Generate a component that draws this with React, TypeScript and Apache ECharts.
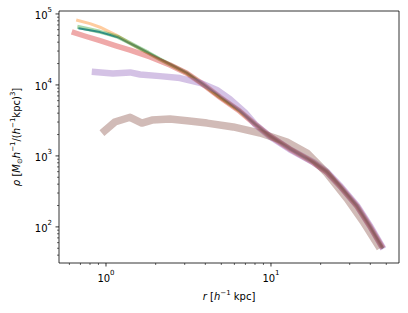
import React, { useEffect, useRef } from 'react';
import * as echarts from 'echarts';

// Axis extents (log-log)
const X_MIN = 0.519;
const X_MAX = 59.7;
const Y_MIN = 31;
const Y_MAX = 1.1e5;

// Tick values
const X_MAJOR = [1, 10];
const X_MINOR = [0.6, 0.7, 0.8, 0.9, 2, 3, 4, 5, 6, 7, 8, 9, 20, 30, 40, 50];
const Y_MAJOR = [1e2, 1e3, 1e4, 1e5];
const Y_MINOR = [
  40, 50, 60, 70, 80, 90,
  200, 300, 400, 500, 600, 700, 800, 900,
  2000, 3000, 4000, 5000, 6000, 7000, 8000, 9000,
  20000, 30000, 40000, 50000, 60000, 70000, 80000, 90000,
];

// Series data: radius r [h^-1 kpc] and density rho
const R_BLUE = [0.68, 0.8, 0.92, 1.05, 1.18, 1.35, 1.54, 1.8, 2.12, 2.6, 3.09, 3.87, 4.91, 6.48, 8.0, 9.86, 13.0, 18.0, 21.8, 26.2, 33.2, 39.8, 47.7];
const RHO_BLUE = [6.3e4, 5.9e4, 5.55e4, 5.1e4, 4.7e4, 4.0e4, 3.45e4, 2.85e4, 2.32e4, 1.82e4, 1.48e4, 1.03e4, 6.8e3, 4.3e3, 2.82e3, 1.91e3, 1.26e3, 820, 600, 380, 200, 103, 50];

const R_ORANGE = [0.66, 0.8, 0.92, 1.05, 1.18, 1.35, 1.54, 1.8, 2.12, 2.6, 3.09, 3.87, 4.91, 6.48, 8.0, 9.86, 13.0, 18.0, 21.8, 26.2, 33.2, 39.8, 47.7];
const RHO_ORANGE = [8.2e4, 7.3e4, 6.5e4, 5.6e4, 4.9e4, 4.05e4, 3.4e4, 2.82e4, 2.3e4, 1.8e4, 1.45e4, 1.0e4, 6.6e3, 4.25e3, 2.8e3, 1.9e3, 1.25e3, 810, 595, 375, 198, 102, 50];

const R_GREEN = [0.67, 0.8, 0.92, 1.05, 1.18, 1.35, 1.54, 1.8, 2.12, 2.6, 3.09, 3.87, 4.91, 6.48, 8.0, 9.86, 13.0, 18.0, 21.8, 26.2, 33.2, 39.8, 47.7];
const RHO_GREEN = [6.6e4, 6.05e4, 5.6e4, 5.15e4, 4.75e4, 4.05e4, 3.45e4, 2.85e4, 2.3e4, 1.8e4, 1.47e4, 1.02e4, 6.75e3, 4.3e3, 2.82e3, 1.9e3, 1.26e3, 815, 600, 378, 199, 103, 50];

const R_RED = [0.62, 0.75, 0.92, 1.15, 1.4, 1.85, 2.44, 3.09, 3.87, 4.91, 6.48, 8.0, 9.86, 13.0, 18.0, 21.8, 26.2, 33.2, 39.8, 47.7];
const RHO_RED = [5.6e4, 4.85e4, 4.2e4, 3.56e4, 3.1e4, 2.48e4, 1.91e4, 1.46e4, 1.02e4, 6.7e3, 4.25e3, 2.8e3, 1.9e3, 1.25e3, 810, 590, 375, 197, 102, 50];

const R_PURPLE = [0.82, 1.1, 1.4, 1.61, 2.12, 2.81, 3.71, 4.7, 5.64, 6.95, 8.0, 9.86, 13.0, 18.0, 21.8, 26.2, 33.2, 39.8, 48.0];
const RHO_PURPLE = [1.53e4, 1.45e4, 1.5e4, 1.4e4, 1.33e4, 1.25e4, 1.07e4, 8.5e3, 6.3e3, 4.1e3, 2.8e3, 1.88e3, 1.24e3, 820, 600, 380, 200, 104, 49];

const R_BROWN = [0.945, 1.13, 1.4, 1.65, 1.9, 2.44, 3.2, 4.1, 5.9, 8.6, 12.5, 16.5, 21.8, 28.9, 36.1, 45.8];
const RHO_BROWN = [2.1e3, 3.0e3, 3.5e3, 2.9e3, 3.2e3, 3.3e3, 3.1e3, 2.9e3, 2.56e3, 2.1e3, 1.57e3, 1.1e3, 570, 250, 120, 50];

const FONT = 'DejaVu Sans';

const zip = (xs: number[], ys: number[]) => xs.map((x, i) => [x, ys[i]]);

const isPow10 = (v: number) => {
  const l = Math.log10(v);
  return Math.abs(l - Math.round(l)) < 1e-6;
};

const powLabel = (v: number) => {
  if (!isPow10(v)) return '';
  return '{b|10}{s|' + Math.round(Math.log10(v)) + '}';
};

const tickRich = {
  b: { fontSize: 10, fontFamily: FONT, color: '#000', lineHeight: 14, verticalAlign: 'bottom' },
  s: { fontSize: 7, fontFamily: FONT, color: '#000', lineHeight: 8, verticalAlign: 'top' },
};

const nameRich = {
  n: { fontSize: 10, fontFamily: FONT, color: '#000', lineHeight: 14, verticalAlign: 'middle' },
  i: { fontSize: 10, fontFamily: FONT, fontStyle: 'italic', color: '#000', lineHeight: 14, verticalAlign: 'middle' },
  s: { fontSize: 7, fontFamily: FONT, color: '#000', lineHeight: 8, verticalAlign: 'top' },
  d: { fontSize: 7, fontFamily: FONT, color: '#000', lineHeight: 8, verticalAlign: 'bottom' },
};

function tickSeries(axis: 'x' | 'y', values: number[], len: number, width: number) {
  return {
    type: 'custom',
    silent: true,
    clip: false,
    z: 10,
    data: values.map((v) => (axis === 'x' ? [v, Y_MIN] : [X_MIN, v])),
    renderItem: (_params: any, api: any) => {
      const p = api.coord([api.value(0), api.value(1)]);
      const shape =
        axis === 'x'
          ? { x1: p[0], y1: p[1], x2: p[0], y2: p[1] + len }
          : { x1: p[0] - len, y1: p[1], x2: p[0], y2: p[1] };
      return { type: 'line', shape, style: { stroke: '#000', lineWidth: width } };
    },
  };
}

function lineSeries(data: number[][], color: string, width: number, opacity: number) {
  return {
    type: 'line',
    data,
    showSymbol: false,
    symbol: 'none',
    smooth: false,
    lineStyle: { color, width, opacity, cap: 'butt', join: 'round' },
    emphasis: { disabled: true },
  };
}

export default function App() {
  const ref = useRef<HTMLDivElement>(null);

  useEffect(() => {
    if (!ref.current) return;
    const chart = echarts.init(ref.current, undefined, { renderer: 'svg' });
    chart.setOption({
      animation: false,
      backgroundColor: '#fff',
      grid: {
        left: 59,
        right: 9,
        top: 11,
        bottom: 50,
        show: true,
        borderColor: '#000',
        borderWidth: 0.8,
        backgroundColor: 'transparent',
      },
      xAxis: {
        type: 'log',
        logBase: 10,
        min: X_MIN,
        max: X_MAX,
        axisLine: { show: false },
        axisTick: { show: false },
        splitLine: { show: false },
        axisLabel: { formatter: powLabel, rich: tickRich, margin: 6, showMinLabel: false, showMaxLabel: false },
        name: '{i|r} {n|[}{i|h}{s|−1}{n| kpc]}',
        nameLocation: 'middle',
        nameGap: 26,
        nameTextStyle: { rich: nameRich },
      },
      yAxis: {
        type: 'log',
        logBase: 10,
        min: Y_MIN,
        max: Y_MAX,
        axisLine: { show: false },
        axisTick: { show: false },
        splitLine: { show: false },
        axisLabel: { formatter: powLabel, rich: tickRich, margin: 7, showMinLabel: false, showMaxLabel: false },
        name: '{i|ρ} {n|[}{i|M}{d|⊙}{i|h}{s|−1}{n|/(}{i|h}{s|−1}{n|kpc)}{s|3}{n|]}',
        nameLocation: 'middle',
        nameRotate: 90,
        nameGap: 35,
        nameTextStyle: { rich: nameRich },
      },
      series: [
        lineSeries(zip(R_BLUE, RHO_BLUE), '#1f77b4', 2, 0.9),
        lineSeries(zip(R_ORANGE, RHO_ORANGE), '#ff7f0e', 3, 0.4),
        lineSeries(zip(R_GREEN, RHO_GREEN), '#2ca02c', 4, 0.4),
        lineSeries(zip(R_RED, RHO_RED), '#d62728', 5.5, 0.4),
        lineSeries(zip(R_PURPLE, RHO_PURPLE), '#9467bd', 6.5, 0.4),
        lineSeries(zip(R_BROWN, RHO_BROWN), '#8c564b', 7.5, 0.4),
        tickSeries('x', X_MAJOR, 3.5, 0.8),
        tickSeries('x', X_MINOR, 2, 0.6),
        tickSeries('y', Y_MAJOR, 3.5, 0.8),
        tickSeries('y', Y_MINOR, 2, 0.6),
      ],
    });
    return () => chart.dispose();
  }, []);

  return <div ref={ref} style={{ width: 408, height: 313, position: 'absolute', left: 0, top: 0 }} />;
}
